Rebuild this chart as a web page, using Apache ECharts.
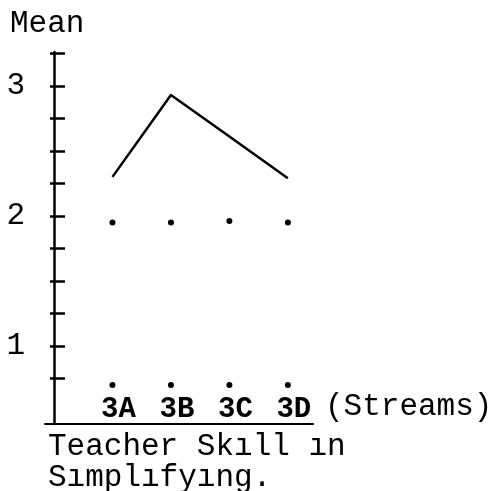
<!DOCTYPE html>
<html>
<head>
<meta charset="utf-8">
<script src="https://cdn.jsdelivr.net/npm/echarts@6/dist/echarts.min.js"></script>
<style>
  html, body { margin: 0; padding: 0; background: #fff; }
  #main { width: 500px; height: 491px; }
</style>
</head>
<body>
<div id="main"></div>
<script>
// streams on the x axis
var streams = ['3A', '3B', '3C', '3D'];
// mean score line (teacher skill in simplifying)
var meanLine = [2.30, 2.93, 2.61, 2.29];
// the two dotted rows
var dotsUpper = [1.95, 1.95, 1.96, 1.95];
var dotsLower = [0.70, 0.70, 0.70, 0.70];
// y ticks and labels
var yTicks = [0.75, 1, 1.25, 1.5, 1.75, 2, 2.25, 2.5, 2.75, 3, 3.25];
var yLabels = [1, 2, 3];

var font = 'Liberation Mono, Courier New, monospace';

function each(arr, fn) {
    for (var i = 0; i < arr.length; i++) fn(i, arr[i]);
}
function toPoints(values) {
    var out = [];
    each(values, function (i, v) {
        out.push([i + 1, v]);
    });
    return out;
}
var xLabelValues = [];
each(streams, function (i) { xLabelValues.push(i + 1); });

var myChart = echarts.init(document.getElementById('main'));

var option = {
    backgroundColor: '#fff',
    animation: false,
    title: [{
        text: 'Mean',
        left: 5,
        top: 3,
        textStyle: { fontFamily: font, fontSize: 31, fontWeight: 'normal', color: '#000' }
    }, {
        text: 'Teacher Skıll ın\nSımplıfyıng.',
        left: 43,
        top: 426,
        textStyle: { fontFamily: font, fontSize: 31, fontWeight: 'normal', color: '#000', lineHeight: 31 }
    }],
    grid: {
        left: 45,
        right: 187,
        top: 52,
        bottom: 67
    },
    xAxis: {
        type: 'value',
        min: -0.154,
        max: 4.43,
        name: '(Streams)',
        nameLocation: 'end',
        nameGap: 12,
        nameTextStyle: {
            fontFamily: font, fontSize: 31, color: '#000',
            verticalAlign: 'bottom', padding: [0, 0, 2, 0]
        },
        axisLine: { show: true, lineStyle: { color: '#000', width: 2 } },
        axisTick: { show: false },
        splitLine: { show: false },
        axisLabel: {
            inside: true,
            margin: 0,
            customValues: xLabelValues,
            formatter: function (v) { return streams[Math.round(v) - 1] || ''; },
            fontFamily: font,
            fontSize: 29,
            fontWeight: 'bold',
            color: '#000',
            padding: [0, 0, 0, 12]
        }
    },
    yAxis: [{
        type: 'value',
        min: 0.4,
        max: 3.26,
        offset: -9,
        axisLine: { show: true, onZero: false, lineStyle: { color: '#000', width: 2.5 } },
        axisTick: {
            show: true,
            inside: true,
            length: 11,
            customValues: yTicks,
            lineStyle: { color: '#000', width: 2.5 }
        },
        splitLine: { show: false },
        axisLabel: {
            customValues: yLabels,
            margin: 29,
            fontFamily: font,
            fontSize: 31,
            color: '#000'
        }
    }, {
        type: 'value',
        position: 'left',
        min: 0.4,
        max: 3.26,
        offset: -9,
        axisLine: { show: false, onZero: false },
        axisTick: {
            show: true,
            length: 4,
            customValues: yTicks,
            lineStyle: { color: '#000', width: 2.5 }
        },
        splitLine: { show: false },
        axisLabel: { show: false }
    }],
    series: [{
        name: 'Mean',
        type: 'line',
        data: toPoints(meanLine),
        showSymbol: false,
        lineStyle: { color: '#000', width: 2.5 }
    }, {
        type: 'scatter',
        data: toPoints(dotsUpper),
        symbolSize: 6,
        itemStyle: { color: '#000', opacity: 1 }
    }, {
        type: 'scatter',
        data: toPoints(dotsLower),
        symbolSize: 6,
        itemStyle: { color: '#000', opacity: 1 }
    }]
};
myChart.setOption(option);
window.onresize = myChart.resize;
</script>
</body>
</html>
